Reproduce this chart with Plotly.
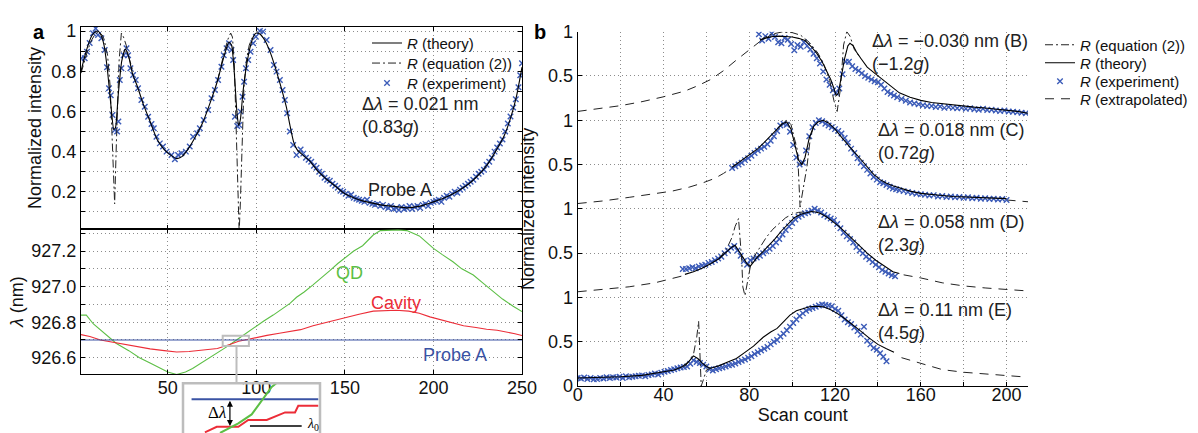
import plotly.graph_objects as go

W, H = 1198, 433
FONT = "Liberation Sans, Arial, Helvetica, sans-serif"
EXP_COLOR = "#3b5bb8"
QD_COLOR = "#5cbf45"
CAV_COLOR = "#ec2d38"
PROBE_COLOR = "#3a53a4"
GRID = "#8c8c8c"


def fx(p):
    return p / W


def fy(p):
    return 1 - p / H


# ---------------- Panel a (top): reflectivity vs scan count ----------------
a_theory_x = [1, 3, 5, 7, 9, 10.5, 12, 14, 16, 18,
              19.5, 20.5, 22, 24, 26, 28, 30, 33, 36, 40,
              44, 48, 52, 55, 58, 62, 66, 70, 74, 78,
              81, 83, 84.5, 86, 87.5, 89, 90, 91, 92.5, 94.5,
              96.5, 98.5, 100, 102, 105, 108, 111, 114, 117, 119,
              121, 123, 126, 130, 135, 140, 145, 150, 155, 160,
              165, 170, 175, 180, 185, 190, 195, 200, 205, 210,
              215, 220, 225, 230, 235, 240, 244, 247, 250]
a_theory_r = [0.80, 0.87, 0.93, 0.975, 0.995, 1.0, 0.985, 0.93, 0.80, 0.62,
              0.51, 0.52, 0.68, 0.85, 0.91, 0.87, 0.79, 0.72, 0.64, 0.55,
              0.46, 0.41, 0.38, 0.365, 0.375, 0.42, 0.48, 0.55, 0.645, 0.75,
              0.85, 0.91, 0.945, 0.93, 0.80, 0.60, 0.53, 0.56, 0.70, 0.83,
              0.92, 0.975, 0.99, 0.985, 0.95, 0.89, 0.81, 0.72, 0.62, 0.53,
              0.45, 0.41, 0.385, 0.355, 0.30, 0.26, 0.225, 0.19, 0.17, 0.155,
              0.145, 0.135, 0.13, 0.125, 0.12, 0.125, 0.135, 0.15, 0.165, 0.185,
              0.21, 0.24, 0.28, 0.33, 0.40, 0.48, 0.58, 0.68, 0.82]

a_eq2_x = [1, 3, 5, 7, 9, 11, 13, 14, 16, 17.5, 19, 20, 21, 22.5, 23.8, 25, 26.5, 28, 30, None,
           78, 80, 82, 84, 85.5, 86.5, 87.5, 88.5, 89.5, 90.3, 91, 92, 93, 94.5, 96, 98]
a_eq2_r = [0.79, 0.85, 0.91, 0.955, 0.985, 0.995, 0.98, 0.96, 0.88, 0.72, 0.42, 0.14, 0.45, 0.85, 0.99, 0.97, 0.93, 0.87, 0.81, None,
           0.75, 0.83, 0.90, 0.96, 0.99, 0.97, 0.85, 0.55, 0.20, 0.0, 0.15, 0.50, 0.72, 0.86, 0.93, 0.975]

a_exp_x = [1.2, 3.1, 4.4, 5.9, 7.8, 9.3, 10.6, 12.5, 14.4, 15.7,
           16.8, 17.8, 18.8, 20.1, 21.4, 22.1, 22.9, 23.8, 25.1, 26.7,
           27.6, 28.9, 30.4, 31.9, 33.2, 35.1, 37.0, 38.9, 40.8, 42.1,
           43.6, 45.5, 47.3, 49.3, 52.1, 54.0, 55.8, 57.7, 60.2, 62.4,
           64.3, 66.6, 68.1, 70.3, 72.8, 74.7, 76.6, 78.4, 80.3, 81.6,
           83.2, 84.6, 86.0, 86.9, 87.9, 89.2, 90.3, 91.1, 92.2, 93.1,
           94.1, 95.4, 96.7, 98.2, 99.7, 102.0, 103.8, 105.8, 108.0, 109.9,
           111.4, 113.3, 114.8, 116.1, 117.4, 118.9, 120.8, 122.7,
           125, 126.5, 128, 129.5, 131, 132.5, 134, 135.5, 137, 138.5,
           140, 141.5, 143, 144.5, 146, 147.5, 149, 150.5, 152, 153.5,
           155, 156.5, 158, 159.5, 161, 162.5, 164, 165.5, 167, 168.5,
           170, 171.5, 173, 174.5, 176, 177.5, 179, 180.5, 182, 183.5,
           185, 186.5, 188, 189.5, 191, 192.5, 194, 195.5, 197, 198.5,
           200, 201.5, 203, 204.5, 206, 207.5, 209, 210.5, 212, 213.5,
           215, 216.5, 218, 219.5, 221, 222.5, 224, 225.5, 227, 228.5,
           230, 231.5, 233, 234.5, 236, 237.5, 239, 240.5, 242, 243.5,
           245, 246.5, 248, 249, 250]
a_exp_r = [0.864, 0.864, 0.897, 0.94, 0.989, 1.013, 0.98, 0.964, 0.906, 0.82,
           0.715, 0.68, 0.582, 0.508, 0.50, 0.55, 0.756, 0.815, 0.88, 0.914,
           0.88, 0.815, 0.781, 0.756, 0.715, 0.657, 0.623, 0.574, 0.537, 0.516,
           0.474, 0.441, 0.425, 0.40, 0.383, 0.362, 0.383, 0.392, 0.40, 0.425,
           0.474, 0.491, 0.516, 0.557, 0.607, 0.665, 0.707, 0.756, 0.822, 0.88,
           0.914, 0.939, 0.906, 0.856, 0.574, 0.527, 0.532, 0.599, 0.673, 0.748,
           0.815, 0.856, 0.897, 0.939, 0.972, 1.0, 0.997, 0.955, 0.906, 0.831,
           0.798, 0.756, 0.707, 0.657, 0.591, 0.50, 0.433, 0.383,
           0.41, 0.39, 0.37, 0.36, 0.35, 0.33, 0.32, 0.30, 0.29, 0.27,
           0.26, 0.255, 0.24, 0.23, 0.22, 0.205, 0.20, 0.19, 0.18, 0.185,
           0.17, 0.165, 0.16, 0.155, 0.15, 0.16, 0.145, 0.14, 0.135, 0.14,
           0.13, 0.135, 0.125, 0.12, 0.13, 0.115, 0.12, 0.11, 0.125, 0.115,
           0.12, 0.13, 0.115, 0.125, 0.13, 0.12, 0.135, 0.14, 0.13, 0.145,
           0.15, 0.155, 0.16, 0.15, 0.17, 0.18, 0.175, 0.19, 0.20, 0.195,
           0.21, 0.22, 0.23, 0.24, 0.25, 0.26, 0.275, 0.29, 0.30, 0.31,
           0.335, 0.35, 0.37, 0.40, 0.42, 0.44, 0.46, 0.50, 0.54, 0.575,
           0.62, 0.66, 0.72, 0.78, 0.84]

# ---------------- Panel a (bottom): wavelengths ----------------
a_qd_x = [1, 4, 8, 14, 21, 28, 34, 40, 45.5, 50,
          55, 60, 64, 70, 73, 77.5, 83, 88.8, 93, 98,
          104, 109.5, 114, 119, 122.7, 127, 132, 137, 141.5, 146,
          151, 155, 160, 163, 166, 170, 175, 180, 185, 189,
          192, 196, 200, 205, 211, 216, 222.5, 228, 233.8, 239,
          245, 250]
a_qd_nm = [926.84, 926.84, 926.79, 926.74, 926.68, 926.64, 926.60, 926.57, 926.54, 926.52,
           926.506, 926.52, 926.54, 926.577, 926.595, 926.625, 926.66, 926.70, 926.73, 926.765,
           926.805, 926.84, 926.87, 926.906, 926.94, 926.97, 927.01, 927.05, 927.09, 927.13,
           927.17, 927.20, 927.23, 927.26, 927.29, 927.315, 927.318, 927.318, 927.315, 927.30,
           927.285, 927.25, 927.215, 927.18, 927.14, 927.10, 927.065, 927.02, 926.97, 926.93,
           926.89, 926.86]

a_cav_x = [1, 6, 12, 20, 30, 40, 48, 55, 62, 70,
           78, 85, 90, 95, 100, 106, 113, 120, 125, 132,
           140, 151, 158, 166, 172, 179, 186, 192, 198, 205,
           212, 217, 224, 230, 236, 242, 246, 250]
a_cav_nm = [926.73, 926.72, 926.70, 926.685, 926.667, 926.65, 926.64, 926.632, 926.635, 926.643,
            926.652, 926.675, 926.693, 926.703, 926.714, 926.726, 926.738, 926.75, 926.758, 926.78,
            926.80, 926.83, 926.845, 926.862, 926.866, 926.867, 926.862, 926.85, 926.83, 926.81,
            926.79, 926.78, 926.77, 926.76, 926.755, 926.745, 926.735, 926.725]

a_probe_x = [1, 250]
a_probe_nm = [926.70, 926.70]

# ---------------- Inset (zoom of the crossing, around scan 86-94) ----------------
inset_probe_x = [86.5, 93.9]
inset_probe_nm = [926.700, 926.700]
inset_cav_x = [87.28, 87.97, 89.23, 89.81, 90.89, 91.96, 92.54, 92.73, 93.90]
inset_cav_nm = [926.6720, 926.6767, 926.6767, 926.6824, 926.6824, 926.6888, 926.6888, 926.6944, 926.6944]
inset_qd_x = [88.16, 89.23, 90.01, 91.18, 91.45]
inset_qd_nm = [926.6714, 926.6796, 926.6871, 926.7103, 926.7134]
inset_l0_x = [89.91, 92.93]
inset_l0_nm = [926.6773, 926.6773]

# ---------------- Panel b: stacked traces (offsets 3,2,1,0) ----------------
b_offsets = {"B": 3, "C": 2, "D": 1, "E": 0}

bB_theory_x = [85, 88, 91, 94, 97, 100, 103, 106, 109, 111.5,
               114, 116, 118, 119.5, 120.5, 121.5, 123, 124.5, 126, 127,
               128.5, 130, 132, 135, 138, 141, 144, 147, 150, 155,
               160, 165, 170, 175, 180, 185, 190, 195, 200, 205, 210]
bB_theory_v = [0.905, 0.93, 0.945, 0.95, 0.945, 0.94, 0.925, 0.90, 0.83, 0.755,
               0.66, 0.565, 0.46, 0.36, 0.28, 0.30, 0.50, 0.70, 0.84, 0.87,
               0.84, 0.77, 0.70, 0.60, 0.54, 0.48, 0.43, 0.36, 0.31, 0.26,
               0.225, 0.20, 0.185, 0.17, 0.16, 0.148, 0.138, 0.128, 0.115, 0.10, 0.08]
bB_eq2_x = [85, 90, 95, 100, 104, 108, 112, 115, 117.5, 119.5, 121, 122.5, 124, 125.5, 127, 129, 132]
bB_eq2_v = [0.905, 0.97, 0.995, 0.99, 0.96, 0.88, 0.76, 0.62, 0.45, 0.22, 0.10, 0.35, 0.85, 1.0, 0.95, 0.80, 0.70]
bB_extrap_x = [0, 10, 20, 30, 40, 50, 56, 62, 68, 74, 80, 85, 90, 95]
bB_extrap_v = [0.10, 0.13, 0.165, 0.21, 0.265, 0.33, 0.39, 0.46, 0.56, 0.68, 0.80, 0.89, 0.96, 0.99]
bB_exp_x = [84.5, 86, 87.5, 89, 90.5, 92, 93.5, 95, 96.5, 98,
            99.5, 101, 102.5, 104, 105.5, 107, 108.5, 110, 111.5, 113,
            114.5, 116, 117.5, 119, 120.5, 122, 123.5, 125, 126.5, 128,
            129.5, 131, 132.5, 134, 135.5, 137, 138.5, 140, 141.5, 143,
            144.5, 146, 147.5, 149, 151, 153, 155, 157, 159, 161,
            163, 165, 167, 169, 171, 173, 175, 177, 179, 181,
            183, 185, 187, 189, 191, 193, 195, 197, 199, 201,
            203, 205, 207, 209]
bB_exp_v = [0.97, 0.90, 0.95, 0.92, 0.98, 0.94, 0.88, 0.87, 0.93, 0.91,
            0.86, 0.79, 0.85, 0.83, 0.88, 0.84, 0.80, 0.75, 0.70, 0.64,
            0.55, 0.46, 0.40, 0.34, 0.31, 0.36, 0.52, 0.66, 0.66, 0.61,
            0.58, 0.56, 0.53, 0.50, 0.48, 0.46, 0.44, 0.43, 0.40, 0.36,
            0.32, 0.30, 0.28, 0.26, 0.24, 0.22, 0.20, 0.19, 0.18, 0.17,
            0.16, 0.16, 0.15, 0.155, 0.14, 0.15, 0.14, 0.135, 0.14, 0.13,
            0.135, 0.125, 0.12, 0.13, 0.115, 0.12, 0.11, 0.105, 0.11, 0.10,
            0.095, 0.09, 0.085, 0.08]

bC_theory_x = [72, 75, 78, 81, 84, 87, 90, 93, 95.5, 97.5,
               99.5, 101.5, 103, 104.5, 106, 108, 110, 112, 114.5, 117,
               120, 123, 126, 129, 132, 135, 138, 141, 144, 147,
               150, 155, 160, 165, 170, 175, 180, 185, 190, 195, 200]
bC_theory_v = [0.47, 0.52, 0.57, 0.62, 0.68, 0.75, 0.82, 0.90, 0.96, 0.98,
               0.90, 0.70, 0.55, 0.50, 0.58, 0.80, 0.93, 0.98, 1.0, 0.97,
               0.90, 0.81, 0.72, 0.64, 0.56, 0.47, 0.39, 0.33, 0.29, 0.26,
               0.235, 0.20, 0.175, 0.16, 0.15, 0.14, 0.135, 0.13, 0.125, 0.12, 0.115]
bC_eq2_x = [93, 95.5, 97.5, 99.5, 101, 102.5, 103.7, 105, 106.9, 108.5, 110, 112]
bC_eq2_v = [0.90, 0.97, 1.0, 0.95, 0.80, 0.66, 0.02, 0.22, 0.475, 0.80, 0.93, 0.98]
bC_extrap_x = [0, 12, 24, 36, 44, 52, 58, 64, 68, 72, None, 200, 205, 210]
bC_extrap_v = [0.06, 0.09, 0.13, 0.17, 0.20, 0.245, 0.29, 0.345, 0.40, 0.465, None, 0.10, 0.09, 0.08]
bC_exp_x = [72, 73.5, 75, 76.5, 78, 79.5, 81, 82.5, 84, 85.5,
            87, 88.5, 90, 91.5, 93, 94.5, 96, 97.5, 99, 100.5,
            102, 103.5, 105, 106.5, 108, 109.5, 111, 112.5, 114, 115.5,
            117, 118.5, 120, 121.5, 123, 124.5, 126, 127.5, 129, 130.5,
            132, 133.5, 135, 136.5, 138, 139.5, 141, 142.5, 144, 145.5,
            147, 148.5, 150, 152, 154, 156, 158, 160, 162, 164,
            166, 168, 170, 172, 174, 176, 178, 180, 182, 184,
            186, 188, 190, 192, 194, 196, 198, 200]
bC_exp_v = [0.46, 0.48, 0.50, 0.52, 0.55, 0.57, 0.60, 0.63, 0.66, 0.68,
            0.70, 0.73, 0.77, 0.82, 0.88, 0.94, 0.96, 0.95, 0.87, 0.72,
            0.58, 0.50, 0.52, 0.66, 0.82, 0.92, 0.97, 1.0, 0.99, 0.96,
            0.94, 0.92, 0.90, 0.88, 0.85, 0.80, 0.75, 0.68, 0.63, 0.57,
            0.52, 0.48, 0.44, 0.40, 0.36, 0.33, 0.30, 0.29, 0.27, 0.25,
            0.23, 0.22, 0.21, 0.20, 0.19, 0.18, 0.17, 0.165, 0.16, 0.15,
            0.155, 0.14, 0.145, 0.135, 0.14, 0.13, 0.135, 0.125, 0.13, 0.12,
            0.125, 0.115, 0.12, 0.11, 0.115, 0.105, 0.11, 0.10]

bD_theory_x = [50, 54, 58, 62, 66, 69.5, 72, 73.4, 75, 77,
               79, 80.4, 82, 84, 86.5, 89, 92, 95, 98, 101,
               104, 107, 109, 111, 113, 116, 119, 122, 125.5, 128.5,
               131.5, 135, 139, 143, 147, 150]
bD_theory_v = [0.26, 0.29, 0.33, 0.38, 0.44, 0.52, 0.57, 0.59, 0.53, 0.45,
               0.38, 0.35, 0.40, 0.46, 0.52, 0.58, 0.66, 0.75, 0.83, 0.90,
               0.94, 0.96, 0.97, 0.965, 0.95, 0.91, 0.86, 0.80, 0.72, 0.65,
               0.57, 0.50, 0.42, 0.35, 0.29, 0.27]
bD_eq2_x = [66, 69.5, 72, 73.4, 75, 76.5, 77, 78, 79.6, 80.6, 82, 85, 88, 91, 94, 97, 100, 103, 106]
bD_eq2_v = [0.44, 0.55, 0.68, 0.80, 0.89, 0.42, 0.12, 0.02, 0.23, 0.36, 0.45, 0.56, 0.68, 0.77, 0.84, 0.90, 0.94, 0.96, 0.965]
bD_extrap_x = [0, 12, 24, 36, 44, 50, None, 152, 155, 160, 170, 180, 190, 200, 210]
bD_extrap_v = [0.064, 0.09, 0.12, 0.165, 0.215, 0.25, None, 0.255, 0.245, 0.22, 0.165, 0.13, 0.107, 0.09, 0.073]
bD_exp_x = [49, 50.5, 52, 53.5, 55, 56.5, 58, 59.5, 61, 62.5,
            64, 65.5, 67, 68.5, 70, 71.5, 73, 74.5, 76, 77.5,
            79, 80.5, 82, 83.5, 85, 86.5, 88, 89.5, 91, 92.5,
            94, 95.5, 97, 98.5, 100, 101.5, 103, 104.5, 106, 107.5,
            109, 110.5, 112, 113.5, 115, 116.5, 118, 119.5, 121, 122.5,
            124, 125.5, 127, 128.5, 130, 131.5, 133, 134.5, 136, 137.5,
            139, 140.5, 142, 143.5, 145, 146.5, 148]
bD_exp_v = [0.32, 0.32, 0.33, 0.34, 0.33, 0.35, 0.36, 0.37, 0.39, 0.40,
            0.42, 0.44, 0.46, 0.50, 0.53, 0.56, 0.58, 0.53, 0.47, 0.41,
            0.37, 0.42, 0.44, 0.45, 0.47, 0.50, 0.52, 0.55, 0.58, 0.62,
            0.66, 0.71, 0.76, 0.80, 0.84, 0.88, 0.91, 0.93, 0.95, 0.96,
            0.98, 1.0, 0.98, 0.96, 0.93, 0.91, 0.89, 0.87, 0.83, 0.78,
            0.73, 0.69, 0.66, 0.62, 0.57, 0.53, 0.50, 0.46, 0.43, 0.40,
            0.37, 0.34, 0.31, 0.29, 0.27, 0.25, 0.24]

bE_theory_x = [0, 10, 20, 30, 40, 45, 49, 52, 54, 56,
               58, 60, 62, 66, 70, 74, 78, 82, 86.5, 90,
               93, 96, 99, 102, 105, 108, 111, 114.5, 118, 121,
               124, 128, 132, 136, 140, 144, 147.5]
bE_theory_v = [0.09, 0.095, 0.105, 0.12, 0.155, 0.18, 0.22, 0.28, 0.34, 0.31,
               0.26, 0.22, 0.20, 0.23, 0.27, 0.31, 0.38, 0.45, 0.55, 0.61,
               0.65, 0.72, 0.80, 0.85, 0.87, 0.895, 0.90, 0.895, 0.86, 0.82,
               0.77, 0.70, 0.62, 0.54, 0.47, 0.42, 0.38]
bE_eq2_x = [50, 52, 54, 55.5, 56.4, 57.0, 57.6, 58.6, 60, 62]
bE_eq2_v = [0.22, 0.28, 0.36, 0.55, 0.73, 0.30, 0.0, 0.07, 0.18, 0.20]
bE_extrap_x = [151, 155, 160, 170, 180, 190, 200, 207]
bE_extrap_v = [0.32, 0.29, 0.255, 0.185, 0.155, 0.135, 0.115, 0.105]
bE_exp_x = [0, 1.5, 3, 4.5, 6, 7.5, 9, 10.5, 12, 13.5,
            15, 16.5, 18, 19.5, 21, 22.5, 24, 25.5, 27, 28.5,
            30, 31.5, 33, 34.5, 36, 37.5, 39, 40.5, 42, 43.5,
            45, 46.5, 48, 49.5, 51, 52.5, 54, 55.5, 57, 58.5,
            60, 61.5, 63, 64.5, 66, 67.5, 69, 70.5, 72, 73.5,
            75, 76.5, 78, 79.5, 81, 82.5, 84, 85.5, 87, 88.5,
            90, 91.5, 93, 94.5, 96, 97.5, 99, 100.5, 102, 103.5,
            105, 106.5, 108, 109.5, 111, 112.5, 114, 115.5, 117, 118.5,
            120, 121.5, 123, 124.5, 126, 127.5, 129, 130.5, 132, 133.5,
            135, 136.5, 138, 139.5, 141, 142.5, 144]
bE_exp_v = [0.09, 0.085, 0.095, 0.08, 0.09, 0.075, 0.08, 0.09, 0.085, 0.10,
            0.09, 0.10, 0.095, 0.105, 0.09, 0.11, 0.10, 0.105, 0.11, 0.115,
            0.12, 0.11, 0.125, 0.13, 0.14, 0.13, 0.15, 0.16, 0.17, 0.18,
            0.19, 0.20, 0.21, 0.215, 0.22, 0.25, 0.29, 0.27, 0.26, 0.24,
            0.22, 0.19, 0.175, 0.19, 0.20, 0.21, 0.22, 0.235, 0.24, 0.255,
            0.27, 0.285, 0.30, 0.32, 0.335, 0.36, 0.38, 0.40, 0.42, 0.44,
            0.47, 0.50, 0.52, 0.56, 0.59, 0.63, 0.67, 0.71, 0.75, 0.79,
            0.82, 0.85, 0.87, 0.88, 0.895, 0.91, 0.92, 0.915, 0.91, 0.90,
            0.87, 0.85, 0.80, 0.75, 0.72, 0.70, 0.66, 0.62, 0.58, 0.67,
            0.51, 0.47, 0.43, 0.41, 0.37, 0.33, 0.28]

# tick labels
a_r_ticks = [0.1, 0.2, 0.3, 0.4, 0.5, 0.6, 0.7, 0.8, 0.9, 1.0]
a_r_ticktext = ["", "0.2", "", "0.4", "", "0.6", "", "0.8", "", "1"]
a_nm_ticks = [926.6, 926.7, 926.8, 926.9, 927.0, 927.1, 927.2, 927.3]
a_nm_ticktext = ["926.6", "", "926.8", "", "927.0", "", "927.2", ""]
a_x_ticks = [50, 100, 150, 200, 250]
b_x_ticks = [0, 20, 40, 60, 80, 100, 120, 140, 160, 180, 200]
b_x_ticktext = ["0", "", "40", "", "80", "", "120", "", "160", "", "200"]
b_y_ticks = [0, 0.5, 1, 1.5, 2, 2.5, 3, 3.5, 4]
b_y_ticktext = ["0", "0.5", "1", "0.5", "1", "0.5", "1", "0.5", "1"]

for xs, ys in [(a_theory_x, a_theory_r), (a_eq2_x, a_eq2_r), (a_exp_x, a_exp_r),
               (a_qd_x, a_qd_nm), (a_cav_x, a_cav_nm),
               (inset_cav_x, inset_cav_nm), (inset_qd_x, inset_qd_nm),
               (bB_theory_x, bB_theory_v), (bB_eq2_x, bB_eq2_v), (bB_extrap_x, bB_extrap_v), (bB_exp_x, bB_exp_v),
               (bC_theory_x, bC_theory_v), (bC_eq2_x, bC_eq2_v), (bC_extrap_x, bC_extrap_v), (bC_exp_x, bC_exp_v),
               (bD_theory_x, bD_theory_v), (bD_eq2_x, bD_eq2_v), (bD_extrap_x, bD_extrap_v), (bD_exp_x, bD_exp_v),
               (bE_theory_x, bE_theory_v), (bE_eq2_x, bE_eq2_v), (bE_extrap_x, bE_extrap_v), (bE_exp_x, bE_exp_v)]:
    assert len(xs) == len(ys), (len(xs), len(ys), xs[:3])


def shift(vals, off):
    return [None if v is None else v + off for v in vals]


fig = go.Figure()

line_theory = dict(color="black", width=1.1)
line_eq2 = dict(color="#222", width=1.0, dash="8px,3px,2px,3px")
line_extrap = dict(color="#222", width=1.0, dash="9px,7px")
exp_marker = dict(symbol="x-thin", size=5.5, color=EXP_COLOR, line=dict(width=1.4, color=EXP_COLOR))

# ---- panel a top (each legend entry in its own legend box for exact row spacing)
fig.add_trace(go.Scatter(x=a_exp_x, y=a_exp_r, mode="markers", marker=exp_marker,
                         name="<i>R</i> (experiment)", legend="legend3", xaxis="x", yaxis="y"))
fig.add_trace(go.Scatter(x=a_eq2_x, y=a_eq2_r, mode="lines", line=line_eq2, connectgaps=False,
                         name="<i>R</i> (equation (2))", legend="legend2", xaxis="x", yaxis="y"))
fig.add_trace(go.Scatter(x=a_theory_x, y=a_theory_r, mode="lines", line=dict(line_theory, shape="spline", smoothing=0.5),
                         name="<i>R</i> (theory)", legend="legend", xaxis="x", yaxis="y"))

# ---- panel a bottom
fig.add_trace(go.Scatter(x=a_qd_x, y=a_qd_nm, mode="lines", line=dict(color=QD_COLOR, width=1.1),
                         showlegend=False, xaxis="x2", yaxis="y2"))
fig.add_trace(go.Scatter(x=a_cav_x, y=a_cav_nm, mode="lines", line=dict(color=CAV_COLOR, width=1.1),
                         showlegend=False, xaxis="x2", yaxis="y2"))
fig.add_trace(go.Scatter(x=a_probe_x, y=a_probe_nm, mode="lines", line=dict(color=PROBE_COLOR, width=1.1),
                         showlegend=False, xaxis="x2", yaxis="y2"))

# ---- inset
fig.add_trace(go.Scatter(x=inset_probe_x, y=inset_probe_nm, mode="lines", line=dict(color=PROBE_COLOR, width=2),
                         showlegend=False, xaxis="x4", yaxis="y4"))
fig.add_trace(go.Scatter(x=inset_cav_x, y=inset_cav_nm, mode="lines", line=dict(color=CAV_COLOR, width=2),
                         showlegend=False, xaxis="x4", yaxis="y4"))
fig.add_trace(go.Scatter(x=inset_qd_x, y=inset_qd_nm, mode="lines", line=dict(color=QD_COLOR, width=2),
                         showlegend=False, xaxis="x4", yaxis="y4"))
fig.add_trace(go.Scatter(x=inset_l0_x, y=inset_l0_nm, mode="lines", line=dict(color="black", width=1.5),
                         showlegend=False, xaxis="x4", yaxis="y4"))

# ---- panel b
sets = [
    ("B", bB_theory_x, bB_theory_v, bB_eq2_x, bB_eq2_v, bB_extrap_x, bB_extrap_v, bB_exp_x, bB_exp_v),
    ("C", bC_theory_x, bC_theory_v, bC_eq2_x, bC_eq2_v, bC_extrap_x, bC_extrap_v, bC_exp_x, bC_exp_v),
    ("D", bD_theory_x, bD_theory_v, bD_eq2_x, bD_eq2_v, bD_extrap_x, bD_extrap_v, bD_exp_x, bD_exp_v),
    ("E", bE_theory_x, bE_theory_v, bE_eq2_x, bE_eq2_v, bE_extrap_x, bE_extrap_v, bE_exp_x, bE_exp_v),
]
for i, (key, tx, tv, ex, ev, px_, pv, mx, mv) in enumerate(sets):
    off = b_offsets[key]
    first = i == 0
    fig.add_trace(go.Scatter(x=px_, y=shift(pv, off), mode="lines", line=line_extrap, connectgaps=False,
                             name="<i>R</i> (extrapolated)", legend="legend7",
                             showlegend=first, xaxis="x3", yaxis="y3"))
    fig.add_trace(go.Scatter(x=mx, y=shift(mv, off), mode="markers", marker=exp_marker,
                             name="<i>R</i> (experiment)", legend="legend6",
                             showlegend=first, xaxis="x3", yaxis="y3"))
    fig.add_trace(go.Scatter(x=ex, y=shift(ev, off), mode="lines", line=line_eq2,
                             name="<i>R</i> (equation (2))", legend="legend4",
                             showlegend=first, xaxis="x3", yaxis="y3"))
    fig.add_trace(go.Scatter(x=tx, y=shift(tv, off), mode="lines", line=line_theory,
                             name="<i>R</i> (theory)", legend="legend5",
                             showlegend=first, xaxis="x3", yaxis="y3"))

axis_common = dict(showline=True, linecolor="black", linewidth=1.3, ticks="inside", ticklen=4,
                   tickcolor="black", showgrid=True, gridcolor=GRID, gridwidth=1, griddash="1px,3px",
                   zeroline=False, automargin=False, tickfont=dict(size=18, color="#111"))


def leg(px_left, py_center, size):
    return dict(x=fx(px_left), y=fy(py_center), xanchor="left", yanchor="middle",
                bgcolor="rgba(0,0,0,0)", font=dict(size=size, color="#111"),
                itemwidth=30, tracegroupgap=0, borderwidth=0)


fig.update_layout(
    width=W, height=H,
    margin=dict(l=0, r=0, t=0, b=0, autoexpand=False),
    paper_bgcolor="white", plot_bgcolor="rgba(0,0,0,0)",
    font=dict(family=FONT, size=18, color="#111"),
    xaxis=dict(axis_common, domain=[fx(81), fx(522)], range=[1, 250], anchor="y",
               tickvals=a_x_ticks, showticklabels=False, mirror="ticks"),
    yaxis=dict(axis_common, domain=[fy(229), fy(27)], range=[0.015, 1.02], anchor="x",
               tickvals=a_r_ticks, ticktext=a_r_ticktext, mirror="ticks",
               title=dict(text="Normalized intensity", font=dict(size=18), standoff=4)),
    xaxis2=dict(axis_common, domain=[fx(81), fx(522)], range=[1, 250], anchor="y2",
                tickvals=a_x_ticks, mirror="ticks", ticklabelstandoff=-3),
    yaxis2=dict(axis_common, domain=[fy(374.3), fy(229)], range=[926.507, 927.324], anchor="x2",
                tickvals=a_nm_ticks, ticktext=a_nm_ticktext, mirror="ticks",
                title=dict(text="<i>λ</i> (nm)", font=dict(size=18), standoff=2)),
    xaxis3=dict(axis_common, domain=[fx(577.7), fx(1028)], range=[0, 210], anchor="y3",
                tickvals=b_x_ticks, ticktext=b_x_ticktext, mirror=False, ticklabelstandoff=-8,
                title=dict(text="Scan count", font=dict(size=18), standoff=4)),
    yaxis3=dict(axis_common, domain=[fy(386), fy(31.7)], range=[0, 4], anchor="x3",
                tickvals=b_y_ticks, ticktext=b_y_ticktext, mirror=False,
                title=dict(text="Normalized intensity", font=dict(size=18), standoff=8)),
    xaxis4=dict(domain=[fx(183), fx(320)], range=[86, 94], anchor="y4", visible=False),
    yaxis4=dict(domain=[0, fy(383.3)], range=[926.6714, 926.7134], anchor="x4", visible=False),
    legend=leg(367, 43.3, 15),
    legend2=leg(367, 63.3, 15),
    legend3=leg(367, 83.3, 15),
    legend4=leg(1040, 45, 15),
    legend5=leg(1040, 63, 15),
    legend6=leg(1040, 81.5, 15),
    legend7=leg(1040, 99, 15),
)

annotations = [
    dict(text="<b>a</b>", x=fx(31), y=fy(19), xref="paper", yref="paper", showarrow=False,
         font=dict(size=20, color="black")),
    dict(text="<b>b</b>", x=fx(540), y=fy(19), xref="paper", yref="paper", showarrow=False,
         font=dict(size=20, color="black")),
    dict(text="Δ<i>λ</i> = 0.021 nm<br>(0.83<i>g</i>)", x=158.5, y=0.582, xref="x", yref="y",
         xanchor="left", yanchor="middle", align="left", showarrow=False, font=dict(size=18, color="#222")),
    dict(text="Probe A", x=181.3, y=0.209, xref="x", yref="y", showarrow=False,
         font=dict(size=18, color="#222")),
    dict(text="QD", x=152.8, y=927.075, xref="x2", yref="y2", showarrow=False,
         font=dict(size=18, color=QD_COLOR)),
    dict(text="Cavity", x=178.7, y=926.91, xref="x2", yref="y2", showarrow=False,
         font=dict(size=18, color=CAV_COLOR)),
    dict(text="Probe A", x=212.1, y=926.618, xref="x2", yref="y2", showarrow=False,
         font=dict(size=18, color=PROBE_COLOR)),
    dict(text="Δ<i>λ</i> = −0.030 nm (B)<br>(−1.2<i>g</i>)", x=136.4, y=3.76, xref="x3", yref="y3",
         xanchor="left", yanchor="middle", align="left", showarrow=False, font=dict(size=18, color="#222")),
    dict(text="Δ<i>λ</i> = 0.018 nm (C)<br>(0.72<i>g</i>)", x=139.2, y=2.76, xref="x3", yref="y3",
         xanchor="left", yanchor="middle", align="left", showarrow=False, font=dict(size=18, color="#222")),
    dict(text="Δ<i>λ</i> = 0.058 nm (D)<br>(2.3<i>g</i>)", x=139.2, y=1.72, xref="x3", yref="y3",
         xanchor="left", yanchor="middle", align="left", showarrow=False, font=dict(size=18, color="#222")),
    dict(text="Δ<i>λ</i> = 0.11 nm (E)<br>(4.5<i>g</i>)", x=139.2, y=0.73, xref="x3", yref="y3",
         xanchor="left", yanchor="middle", align="left", showarrow=False, font=dict(size=18, color="#222")),
    # inset
    dict(text="", x=88.74, y=926.6773, ax=88.74, ay=926.700, xref="x4", yref="y4", axref="x4", ayref="y4",
         showarrow=True, arrowside="end+start", arrowhead=2, arrowsize=1, arrowwidth=1.2, arrowcolor="black"),
    dict(text="Δ<i>λ</i>", x=87.97, y=926.6885, xref="x4", yref="y4", showarrow=False,
         font=dict(size=17, color="black", family="Liberation Serif, Times New Roman, serif")),
    dict(text="<i>λ</i><sub>0</sub>", x=93.1, y=926.679, xref="x4", yref="y4", xanchor="left", showarrow=False,
         font=dict(size=14, color="black", family="Liberation Serif, Times New Roman, serif")),
]
fig.update_layout(annotations=annotations)

shapes = [
    dict(type="rect", xref="x2", yref="y2", x0=81, x1=95.8, y0=926.666, y1=926.724,
         line=dict(color="#bdbdbd", width=2)),
    dict(type="line", xref="x2", yref="paper", x0=88.8, x1=88.8, y0=fy(346), y1=fy(383.3),
         line=dict(color="#bdbdbd", width=2)),
    dict(type="rect", xref="paper", yref="paper", x0=fx(183), x1=fx(320), y0=-0.1, y1=fy(383.3),
         line=dict(color="#bdbdbd", width=2.5)),
]
fig.update_layout(shapes=shapes)

fig.write_html("out.html")
